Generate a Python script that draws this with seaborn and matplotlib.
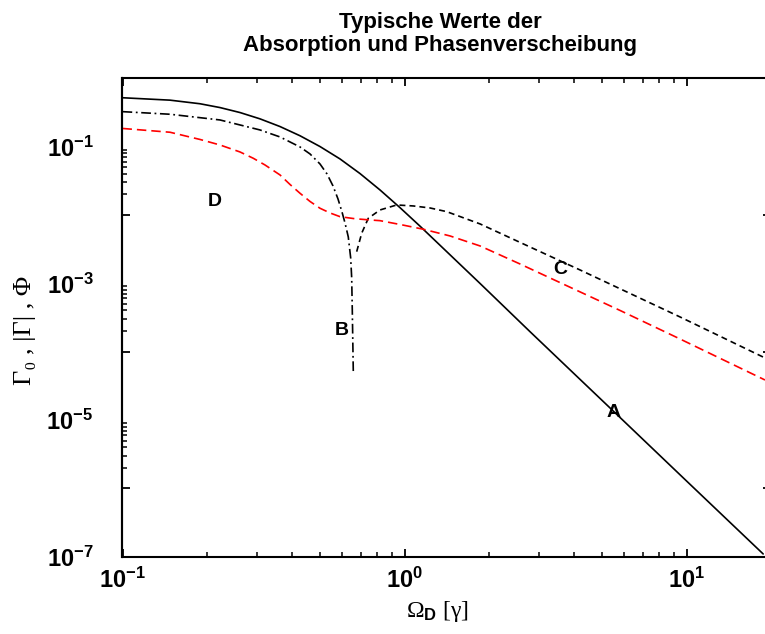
import numpy as np
import pandas as pd
import matplotlib
matplotlib.use("Agg")
import matplotlib.pyplot as plt
import seaborn as sns
from matplotlib.ticker import FixedLocator, FuncFormatter, NullFormatter

# ---------------- data ----------------
a_x = [0.1, 0.1474, 0.1883, 0.2216, 0.2610, 0.3073, 0.3619, 0.4260, 0.5016, 0.5906,
       0.6954, 0.8187, 0.9639, 1.1349, 1.853, 2.786, 4.305, 5.50, 10.0, 18.7]
a_y = [0.5185, 0.4781, 0.4235, 0.3726, 0.3150, 0.2547, 0.1965, 0.1441, 0.1002, 0.0660,
       0.04032, 0.02321, 0.01279, 6.857e-3, 9.95e-4, 1.962e-4, 3.54e-5, 1.352e-5, 1.283e-6, 1.097e-7]

b_x = [0.1, 0.1474, 0.2216, 0.3073, 0.3619, 0.4260, 0.4623, 0.5016, 0.5311, 0.5578,
       0.5810, 0.6003, 0.6152, 0.6319, 0.6444, 0.6497, 0.6529, 0.6583]
b_y = [0.3246, 0.2974, 0.2454, 0.1752, 0.1384, 0.0988, 0.0781, 0.0557, 0.0398, 0.02656,
       0.01714, 0.01106, 7.64e-3, 4.77e-3, 2.35e-3, 1.20e-3, 4.07e-4, 5.10e-5]

c_x = [0.6768, 0.7050, 0.7442, 0.8187, 0.9383, 1.0745, 1.231, 1.4114, 1.853, 2.786,
       4.192, 9.483, 18.98]
c_y = [2.904e-3, 5.40e-3, 8.95e-3, 0.01183, 0.01400, 0.01354, 0.01266, 0.01118, 7.39e-3, 3.40e-3,
       1.568e-3, 3.22e-4, 8.09e-5]

d_x = [0.1, 0.1474, 0.1883, 0.2216, 0.2610, 0.2909, 0.3200, 0.3619, 0.3926, 0.4260,
       0.4623, 0.5016, 0.5443, 0.5906, 0.6676, 0.7546, 0.8187, 0.9639, 1.166, 1.450,
       1.853, 2.567, 3.370, 5.810, 9.483, 18.98]
d_y = [0.1843, 0.1622, 0.1272, 0.1057, 0.0835, 0.0675, 0.0539, 0.03847, 0.02793, 0.02077,
       0.01576, 0.01253, 0.01070, 9.44e-3, 8.80e-3, 8.45e-3, 8.25e-3, 7.26e-3, 6.18e-3, 4.93e-3,
       3.52e-3, 1.919e-3, 1.138e-3, 4.01e-4, 1.533e-4, 3.85e-5]

curve_labels = ["A", "B", "C", "D"]
label_x = [5.5, 0.6, 3.56, 0.213]
label_y = [1.3e-5, 2.07e-4, 1.57e-3, 1.55e-2]

x_major = [0.1, 1.0, 10.0]
y_label_decades = [1e-7, 1e-5, 1e-3, 1e-1]
y_tick_decades = [1e-6, 1e-4, 1e-2]

title = "Typische Werte der\nAbsorption und Phasenverscheibung"

# ---------------- style ----------------
sns.set_theme(style="ticks")
plt.rcParams["font.family"] = ["Liberation Sans", "DejaVu Sans"]
plt.rcParams["mathtext.fontset"] = "custom"
plt.rcParams["mathtext.rm"] = "Liberation Sans"
plt.rcParams["mathtext.bf"] = "Liberation Sans:bold"
plt.rcParams["mathtext.it"] = "Liberation Sans:italic"
plt.rcParams["lines.scale_dashes"] = False

fig = plt.figure(figsize=(7.65, 6.34), dpi=100)
W, H = 765.0, 634.0
x0_px, y_bot_px = 122.5, 556.7
dec_x, dec_y = 282.0, 68.35
ax = fig.add_axes([x0_px / W, (H - y_bot_px) / H,
                   dec_x * np.log10(200.0) / W, dec_y * 7 / H])

ax.set_xscale("log")
ax.set_yscale("log")

df_a = pd.DataFrame({"x": a_x, "y": a_y})
df_b = pd.DataFrame({"x": b_x, "y": b_y})
df_c = pd.DataFrame({"x": c_x, "y": c_y})
df_d = pd.DataFrame({"x": d_x, "y": d_y})

lw = 1.2
sns.lineplot(data=df_a, x="x", y="y", ax=ax, color="black", lw=lw, sort=False, estimator=None)
sns.lineplot(data=df_b, x="x", y="y", ax=ax, color="black", lw=lw, sort=False, estimator=None)
sns.lineplot(data=df_c, x="x", y="y", ax=ax, color="black", lw=lw, sort=False, estimator=None)
sns.lineplot(data=df_d, x="x", y="y", ax=ax, color="#ff0000", lw=lw, sort=False, estimator=None)

lines = ax.get_lines()
lines[1].set_dashes([7.0, 2.6, 1.3, 2.6])
lines[2].set_dashes([4.3, 2.9])
lines[3].set_dashes([6.8, 3.6])
for ln in lines:
    ln.set_solid_joinstyle("round")
    ln.set_dash_joinstyle("round")

ax.set_xlim(0.1, 20.0)
ax.set_ylim(1e-7, 1.0)

for t, xx, yy in zip(curve_labels, label_x, label_y):
    ax.text(xx, yy, t, fontsize=14, fontweight="bold", ha="center", va="center", color="black")

fmt = FuncFormatter(lambda v, p: r"$\mathbf{10^{%d}}$" % int(round(np.log10(v))))

MAJ_LEN, MIN_LEN = 6.1, 3.6  # points

# x ticks
ax.xaxis.set_major_locator(FixedLocator(x_major))
ax.xaxis.set_major_formatter(fmt)
ax.xaxis.set_minor_locator(FixedLocator([m * 10.0 ** e for e in (-1, 0, 1) for m in range(2, 10)]))
ax.xaxis.set_minor_formatter(NullFormatter())
ax.tick_params(axis="x", which="major", direction="in", length=MAJ_LEN, width=1.3, pad=8,
               labelsize=17, top=True, bottom=True, color="black", labelcolor="black")
ax.tick_params(axis="x", which="minor", direction="in", length=MIN_LEN, width=1.1,
               top=True, bottom=True, color="black")

# y ticks: labels at odd decades (no mark), long marks at even decades, minor marks below them
ax.yaxis.set_major_locator(FixedLocator(y_label_decades))
ax.yaxis.set_major_formatter(fmt)
ax.yaxis.set_minor_locator(FixedLocator([m * d for d in y_tick_decades for m in range(2, 10)]))
ax.yaxis.set_minor_formatter(NullFormatter())
ax.tick_params(axis="y", which="major", direction="in", length=0, pad=21, labelsize=17,
               left=True, right=True, color="black", labelcolor="black")
ax.tick_params(axis="y", which="minor", direction="in", length=MIN_LEN, width=1.1,
               left=True, right=True, color="black")

for side in ["left", "right", "top", "bottom"]:
    ax.spines[side].set_visible(True)
    ax.spines[side].set_color("black")
    ax.spines[side].set_linewidth(1.5)

for sideloc in ["left", "right"]:
    sec = ax.secondary_yaxis(sideloc)
    sec.set_yticks(y_tick_decades, labels=[""] * len(y_tick_decades))
    sec.tick_params(axis="y", which="major", direction="in", length=MAJ_LEN, width=1.3,
                    color="black", labelleft=False, labelright=False)
    sec.tick_params(axis="y", which="minor", length=0, labelleft=False, labelright=False)
    sec.spines[sideloc].set_linewidth(1.5)
    sec.spines[sideloc].set_color("black")

ax.set_xlabel("")
ax.set_ylabel("")
ax.grid(False)

fig.text(440 / W, 1 - 12 / H, title, ha="center", va="top", fontsize=16, fontweight="bold",
         linespacing=1.15, color="black")
fig.text(25 / W, 1 - 330 / H, "Γ₀ , |Γ| , Φ", rotation=90, ha="center", va="center",
         fontsize=19, family=["Liberation Serif", "DejaVu Serif"], color="black")
fig.text(437 / W, 1 - 612 / H, r"Ω$_{\mathbf{D}}$ [γ]", ha="center", va="center",
         fontsize=17, family=["Liberation Serif", "DejaVu Serif"], color="black")

fig.savefig("out.png", dpi=100, facecolor="white")
